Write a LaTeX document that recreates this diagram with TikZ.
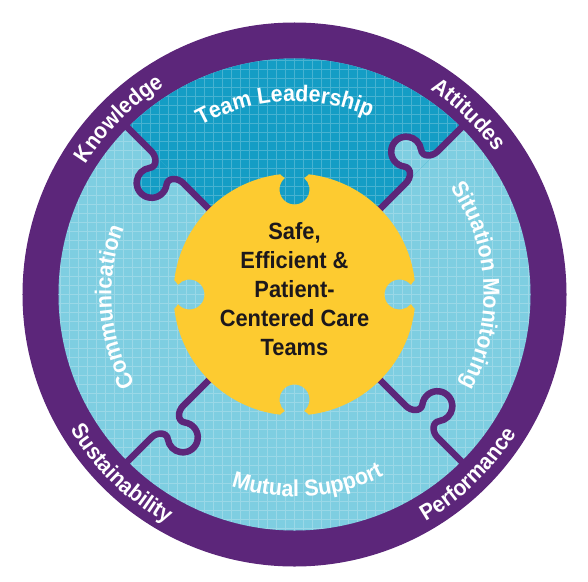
\documentclass[tikz,border=0pt]{standalone}
\usepackage{fontspec}
\setmainfont{Liberation Sans}
\newfontfamily\narrowsans[FakeStretch=0.93]{Liberation Sans}
\usetikzlibrary{decorations.text}
\definecolor{ringpurple}{RGB}{92,38,122}
\definecolor{lightpiece}{RGB}{126,206,225}
\definecolor{darkpiece}{RGB}{20,157,197}
\definecolor{centeryellow}{RGB}{253,203,48}
\definecolor{centertext}{RGB}{28,24,28}
\newcommand\lblfont{\narrowsans\bfseries\fontsize{22.5}{22.5}\selectfont\color{white}}
\newcommand\innerfont{\narrowsans\bfseries\fontsize{23}{23}\selectfont\color{white}}
\begin{document}
\begin{tikzpicture}[x=1pt,y=1pt,
  connector/.style={draw=ringpurple, line width=6.5pt, line cap=round, line join=round},
  gridline/.style={draw=white, opacity=0.22, line width=0.9pt},
  centerlabel/.style={font=\narrowsans\bfseries\fontsize{23.5}{29}\selectfont, align=center, text=centertext, inner sep=0pt}]
\useasboundingbox (-294.5,-286.5) rectangle (293.5,294.5);
% rings and pieces
\fill[ringpurple] (0,0) circle (272);
\fill[lightpiece] (0,0) circle (236);
\fill[darkpiece] (0,0) -- (45:236) arc[start angle=45,end angle=135,radius=236] -- cycle;
\begin{scope}[rotate=45]
  \fill[lightpiece] (158,0) .. controls (165,0) and (172.8,6.6) .. (168,13) arc[start angle=217,end angle=-37,radius=15] .. controls (187.2,6.6) and (195,0) .. (202,0) -- cycle;
\end{scope}
\begin{scope}[rotate=135]
  \fill[darkpiece] (158,0) .. controls (165,0) and (172.8,6.6) .. (168,13) arc[start angle=217,end angle=-37,radius=15] .. controls (187.2,6.6) and (195,0) .. (202,0) -- cycle;
\end{scope}
% grid
\begin{scope}
  \clip (0,0) circle (236);
  \draw[gridline, step=9pt] (-243,-243) grid (243,243);
\end{scope}
% connectors
\foreach \a in {45,135,225,315}{
  \begin{scope}[rotate=\a]
    \draw[connector] (100,0) -- (158,0) .. controls (165,0) and (172.8,6.6) .. (168,13) arc[start angle=217,end angle=-37,radius=15] .. controls (187.2,6.6) and (195,0) .. (202,0) -- (252,0);
  \end{scope}
}
% yellow centre with four notches
\begin{scope}
 \clip (-300,-300) -- (-300,300) -- (300,300) -- (300,-300) -- cycle (150,16) -- (126,16) .. controls (120,16) and (118,12) .. (116.49,9.64) arc[start angle=40,end angle=320,radius=15] .. controls (118,-12) and (120,-16) .. (126,-16) -- (150,-16) -- cycle;
 \begin{scope}[rotate=90]
  \clip (-300,-300) -- (-300,300) -- (300,300) -- (300,-300) -- cycle (150,16) -- (126,16) .. controls (120,16) and (118,12) .. (116.49,9.64) arc[start angle=40,end angle=320,radius=15] .. controls (118,-12) and (120,-16) .. (126,-16) -- (150,-16) -- cycle;
  \begin{scope}[rotate=90]
   \clip (-300,-300) -- (-300,300) -- (300,300) -- (300,-300) -- cycle (150,16) -- (126,16) .. controls (120,16) and (118,12) .. (116.49,9.64) arc[start angle=40,end angle=320,radius=15] .. controls (118,-12) and (120,-16) .. (126,-16) -- (150,-16) -- cycle;
   \begin{scope}[rotate=90]
    \clip (-300,-300) -- (-300,300) -- (300,300) -- (300,-300) -- cycle (150,16) -- (126,16) .. controls (120,16) and (118,12) .. (116.49,9.64) arc[start angle=40,end angle=320,radius=15] .. controls (118,-12) and (120,-16) .. (126,-16) -- (150,-16) -- cycle;
    \fill[centeryellow] (0,0) circle (121);
   \end{scope}
  \end{scope}
 \end{scope}
\end{scope}
\node[centerlabel] (core) at (0,5) {Safe,\\Efficient \&\\Patient-\\Centered Care\\Teams};
% ring labels
\path[decorate, decoration={text along path, text align=center, text={|\lblfont|Knowledge}}] (195:246) arc[start angle=195,end angle=75,radius=246];
\path[decorate, decoration={text along path, text align=center, text={|\lblfont|Attitudes}}] (106:246) arc[start angle=106,end angle=-14,radius=246];
\path[decorate, decoration={text along path, text align=center, text={|\lblfont|Performance}}] (254:262) arc[start angle=254,end angle=374,radius=262];
\path[decorate, decoration={text along path, text align=center, text={|\lblfont|Sustainability}}] (166:262) arc[start angle=166,end angle=286,radius=262];
% piece labels
\path[decorate, decoration={text along path, text align=center, text={|\innerfont|Team Leadership}}] (153:193) arc[start angle=153,end angle=33,radius=193];
\path[decorate, decoration={text along path, text align=center, text={|\innerfont|Situation Monitoring}}] (63:189) arc[start angle=63,end angle=-57,radius=189];
\path[decorate, decoration={text along path, text align=center, text={|\innerfont|Communication}}] (244:183) arc[start angle=244,end angle=124,radius=183];
\path[decorate, decoration={text along path, text align=center, text={|\innerfont|Mutual Support}}] (-146:202) arc[start angle=-146,end angle=-26,radius=202];
\end{tikzpicture}
\end{document}
